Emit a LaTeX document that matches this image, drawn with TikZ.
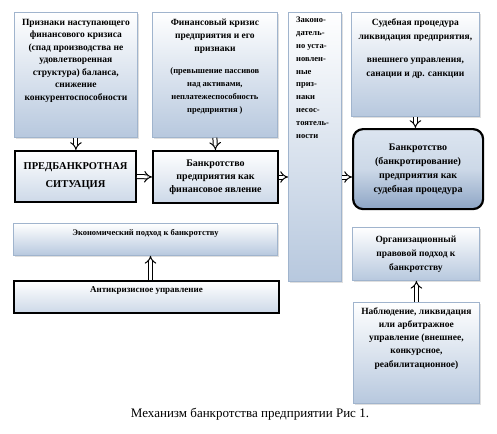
\documentclass[tikz,border=0pt]{standalone}
\usepackage{fontspec}
\setmainfont{Liberation Serif}
\usetikzlibrary{arrows.meta,shadows}
\definecolor{boxtop}{HTML}{FFFFFF}
\definecolor{boxbot}{HTML}{B7C8DE}
\definecolor{boxline}{HTML}{A0B4CD}
\definecolor{roundtop}{HTML}{DCE5F0}
\definecolor{roundbot}{HTML}{8DA5C5}
\begin{document}
\begin{tikzpicture}[x=1pt,y=-1pt,
    box/.style={rectangle, draw=boxline, line width=0.8pt, top color=boxtop, bottom color=boxbot,
        drop shadow={shadow xshift=1.5pt, shadow yshift=-1.5pt, opacity=0.25},
        anchor=north west, inner sep=0pt, align=center},
    framed/.style={rectangle, draw=black, line width=2pt, top color=white, bottom color=boxbot!70,
        anchor=north west, inner sep=0pt, align=center},
    roundbox/.style={rectangle, rounded corners=10pt, draw=black, line width=2.2pt,
        top color=roundtop, bottom color=roundbot, middle color=roundtop!80!roundbot,
        anchor=north west, inner sep=0pt, align=center},
    txt/.style={anchor=north, inner sep=0pt, align=center},
    dbl/.style={double, double distance=3pt, line width=1pt, -{Implies}}]
    \useasboundingbox (0,0) rectangle (497,433);
        \node [box, minimum width=123pt, minimum height=125pt] (signs) at (14,12) {};
        \node [txt, font=\bfseries\fontsize{9.5}{12.5}\selectfont] (signstxt) at ([yshift=-7pt]signs.north) {Признаки наступающего\\финансового кризиса\\(спад производства не\\удовлетворенная\\структура) баланса,\\снижение\\конкурентоспособности};
        \node [box, minimum width=125pt, minimum height=125pt] (crisis) at (152,12) {};
        \node [txt, font=\bfseries\fontsize{9.5}{13}\selectfont] (crisistxt) at ([yshift=-7pt]crisis.north) {Финансовый кризис\\предприятия и его\\признаки\\[9pt]\fontsize{8.5}{12.7}\selectfont(превышение пассивов\\\fontsize{8.5}{12.7}\selectfont над активами,\\\fontsize{8.5}{12.7}\selectfont неплатежеспособность\\\fontsize{8.5}{12.7}\selectfont предприятия )};
        \node [box, minimum width=53pt, minimum height=269pt] (law) at (288,12) {};
        \node [txt, anchor=north west, align=left, font=\bfseries\fontsize{8.5}{12.8}\selectfont] (lawtxt) at ([xshift=8pt,yshift=-5pt]law.north west) {Законо-\\датель-\\но уста-\\новлен-\\ные\\приз-\\наки\\несос-\\тоятель-\\ности};
        \node [box, minimum width=128pt, minimum height=104pt] (court) at (351,12) {};
        \node [txt, font=\bfseries\fontsize{9.5}{13.5}\selectfont] (courttxt) at ([yshift=-7pt]court.north) {Судебная процедура\\ликвидация предприятия,\\[10pt]внешнего управления,\\санации и др. санкции};
        \node [framed, minimum width=121pt, minimum height=51pt, font=\bfseries\fontsize{10.5}{18}\selectfont] (pre) at (14,150) {ПРЕДБАНКРОТНАЯ\\СИТУАЦИЯ};
        \node [framed, minimum width=125pt, minimum height=52pt, font=\bfseries\fontsize{10}{13}\selectfont] (fin) at (152,150) {Банкротство\\предприятия как\\финансовое явление};
        \node [roundbox, minimum width=130pt, minimum height=80pt, font=\bfseries\fontsize{10}{14}\selectfont] (bankr) at (352,128) {Банкротство\\(банкротирование)\\предприятия как\\судебная процедура};
        \node [box, minimum width=264pt, minimum height=32pt] (econ) at (13,223) {};
        \node [txt, font=\bfseries\fontsize{8.5}{12}\selectfont] (econtxt) at ([yshift=-6pt]econ.north) {Экономический подход к банкротству};
        \node [framed, minimum width=265pt, minimum height=32pt] (anti) at (13,280) {};
        \node [txt, font=\bfseries\fontsize{9}{12}\selectfont] (antitxt) at ([yshift=-6pt]anti.north) {Антикризисное управление};
        \node [box, minimum width=127pt, minimum height=53pt, font=\bfseries\fontsize{9.5}{14}\selectfont] (org) at (352,227) {Организационный\\правовой подход к\\банкротству};
        \node [box, minimum width=126pt, minimum height=101pt] (watch) at (353,302) {};
        \node [txt, font=\bfseries\fontsize{9.5}{13.3}\selectfont] (watchtxt) at ([yshift=-5pt]watch.north) {Наблюдение, ликвидация\\или арбитражное\\управление (внешнее,\\конкурсное,\\реабилитационное)};
        \node [anchor=base, font=\fontsize{13}{15}\selectfont] (caption) at (250,417) {Механизм банкротства предприятии Рис 1.};
        \draw [dbl] (signs.south) -- (signs.south |- pre.north);
        \draw [dbl] (crisis.south) -- (fin.north);
        \draw [dbl] (pre.east) -- (fin.west);
        \draw [dbl] (fin.east) -- (fin.east -| law.west);
        \draw [dbl] (fin.east -| law.east) -- (fin.east -| bankr.west);
        \draw [dbl] (court.south) -- (court.south |- bankr.north);
        \draw [dbl] ([xshift=4pt]anti.north) -- ([xshift=4pt]anti.north |- econ.south);
        \draw [dbl] (watch.north) -- (watch.north |- org.south);
    \end{tikzpicture}
\end{document}
